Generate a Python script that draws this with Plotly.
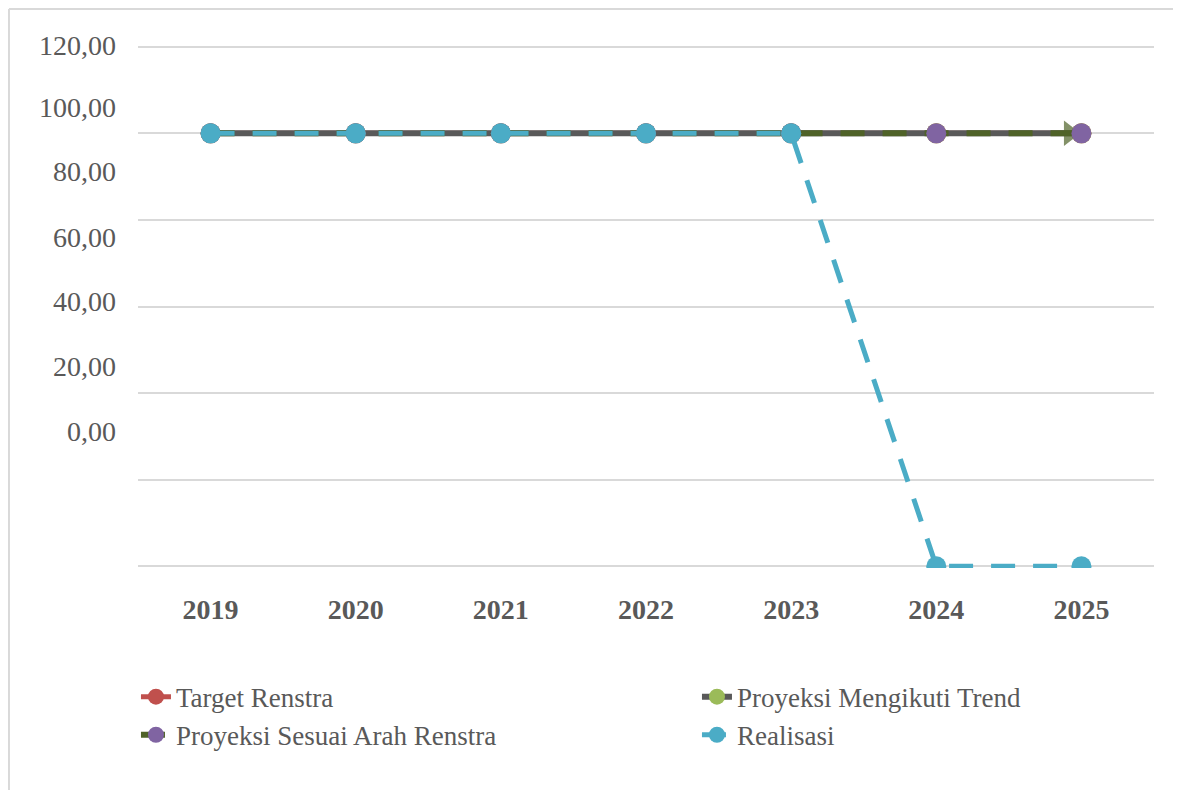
import plotly.graph_objects as go

years = ["2019", "2020", "2021", "2022", "2023", "2024", "2025"]
target_renstra = [100, 100, 100, 100, 100, 100, 100]
proyeksi_trend = [100, 100, 100, 100, 100, 100, 100]
proyeksi_arah = [100, 100, 100, 100, 100, 100, 100]
realisasi = [100, 100, 100, 100, 100, 0, 0]

# y tick labels as printed (they sit offset from the gridlines in the source)
y_tick_text = ["0,00", "20,00", "40,00", "60,00", "80,00", "100,00", "120,00"]
y_tick_pos = [31.2, 46.2, 61.3, 76.1, 91.3, 106.0, 120.3]

FONT = "Liberation Serif"
TEXT = "#595959"
GRID = "#d9d9d9"
OLIVE = "#4F6228"

fig = go.Figure()
fig.add_trace(go.Scatter(
    x=years, y=target_renstra, name="Target Renstra", mode="lines+markers",
    line=dict(color="#C0504D", width=5),
    marker=dict(color="#C0504D", size=20),
))
fig.add_trace(go.Scatter(
    x=years, y=proyeksi_trend, name="Proyeksi Mengikuti Trend", mode="lines+markers",
    line=dict(color="#595959", width=6),
    marker=dict(color="#9BBB59", size=20),
))
# arrowhead at the end of the projection line
arrow_sizes = [0] * (len(years) - 1) + [22]
fig.add_trace(go.Scatter(
    x=years, y=proyeksi_arah, mode="markers", showlegend=False, hoverinfo="skip",
    marker=dict(symbol="triangle-up", size=arrow_sizes, color=OLIVE,
                angleref="previous", standoff=12, line=dict(width=0)),
))
fig.add_trace(go.Scatter(
    x=years, y=proyeksi_arah, name="Proyeksi Sesuai Arah Renstra", mode="lines+markers",
    line=dict(color=OLIVE, width=6, dash="24px,18px"),
    marker=dict(color="#8064A2", size=20),
))
fig.add_trace(go.Scatter(
    x=years, y=realisasi, name="Realisasi", mode="lines+markers",
    line=dict(color="#4BACC6", width=5, dash="24px,18px"),
    marker=dict(color="#4BACC6", size=20),
))
# invisible trace to carry the offset tick labels
fig.add_trace(go.Scatter(
    x=years, y=target_renstra, yaxis="y2", mode="lines",
    line=dict(width=0), showlegend=False, hoverinfo="skip",
))

# outer chart border: only left and top edges are visible in the source
fig.add_shape(type="line", xref="paper", yref="paper",
              x0=-0.127, x1=-0.127, y0=-0.6, y1=1.069,
              line=dict(color=GRID, width=2), layer="below")
fig.add_shape(type="line", xref="paper", yref="paper",
              x0=-0.127, x1=1.2, y0=1.069, y1=1.069,
              line=dict(color=GRID, width=2), layer="below")

fig.update_layout(
    width=1181, height=790,
    paper_bgcolor="white", plot_bgcolor="white",
    margin=dict(l=130, r=35, t=37, b=230, autoexpand=False),
    font=dict(family=FONT, color=TEXT, size=28),
    showlegend=True,
    legend=dict(
        orientation="h", x=-0.002, xanchor="left", y=-0.2, yanchor="top",
        entrywidth=516, entrywidthmode="pixels", tracegroupgap=0,
        font=dict(family=FONT, size=27, color=TEXT),
        bgcolor="rgba(0,0,0,0)",
    ),
    xaxis=dict(
        type="category", range=[-0.5, 6.5], showgrid=False, zeroline=False,
        showline=False, ticks="",
        tickfont=dict(family=FONT, size=28, color=TEXT, weight="bold"),
        ticklabelstandoff=22,
    ),
    yaxis=dict(
        range=[-0.4, 120.4], tickvals=[0, 20, 40, 60, 80, 100, 120],
        showticklabels=False, showgrid=True, gridcolor=GRID, gridwidth=2,
        zeroline=False, showline=False, ticks="",
    ),
    yaxis2=dict(
        overlaying="y", side="left", range=[-0.4, 120.4],
        tickvals=y_tick_pos, ticktext=y_tick_text,
        showgrid=False, zeroline=False, showline=False, ticks="",
        tickfont=dict(family=FONT, size=28, color=TEXT),
        ticklabelstandoff=21,
    ),
)

fig.write_html("out.html")
